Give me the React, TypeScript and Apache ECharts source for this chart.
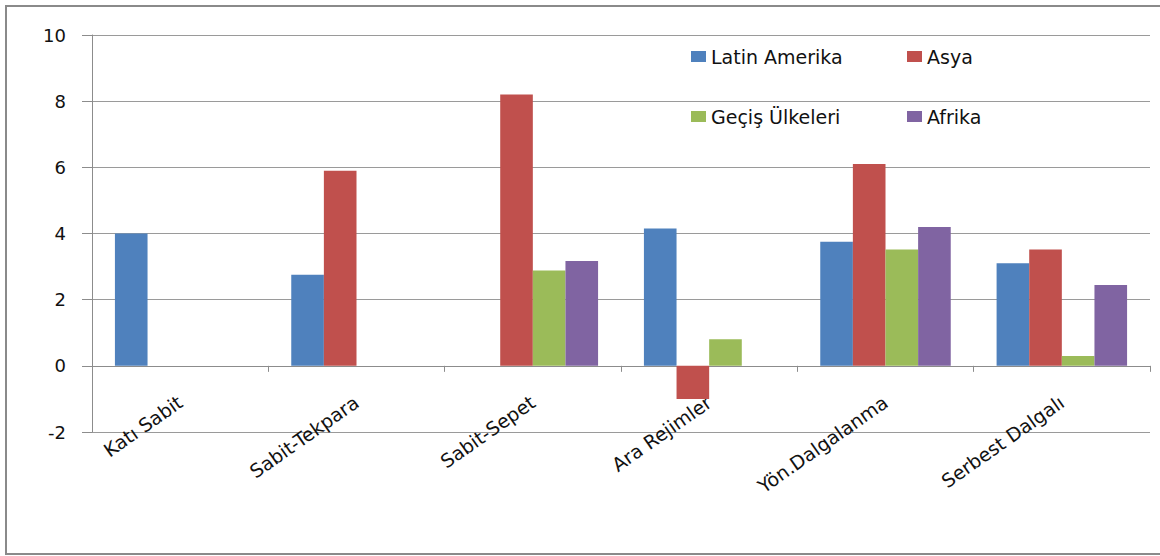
import React, { useEffect, useRef } from "react";
import * as echarts from "echarts";

const categories = ["Katı Sabit", "Sabit-Tekpara", "Sabit-Sepet", "Ara Rejimler", "Yön.Dalgalanma", "Serbest Dalgalı"];
const latinAmerika = [4.0, 2.75, null, 4.15, 3.75, 3.1];
const asya = [null, 5.9, 8.2, -1.0, 6.1, 3.52];
const gecisUlkeleri = [null, null, 2.88, 0.8, 3.52, 0.3];
const afrika = [null, null, 3.17, null, 4.2, 2.44];
const seriesNames = ["Latin Amerika", "Asya", "Geçiş Ülkeleri", "Afrika"];
const seriesColors = ["#4F81BD", "#C0504D", "#9BBB59", "#8064A2"];

const FONT = "DejaVu Sans";

export default function App() {
  const ref = useRef<HTMLDivElement>(null);
  useEffect(() => {
    document.body.style.margin = "0";
    const chart = echarts.init(ref.current!, null, { renderer: "svg" });
    const data = [latinAmerika, asya, gecisUlkeleri, afrika];
    const legendPos = [
      { left: 691, top: 47 },
      { left: 907, top: 47 },
      { left: 691, top: 107 },
      { left: 907, top: 107 },
    ];
    chart.setOption({
      animation: false,
      backgroundColor: "#fff",
      color: seriesColors,
      textStyle: { fontFamily: FONT },
      grid: { left: 92, right: 10, top: 35, bottom: 124, containLabel: false },
      legend: seriesNames.map((n, i) => ({
        data: [n],
        left: legendPos[i].left,
        top: legendPos[i].top,
        itemWidth: 15,
        itemHeight: 11,
        icon: "rect",
        padding: 0,
        textStyle: { fontFamily: FONT, fontSize: 19, color: "#111" },
      })),
      xAxis: {
        type: "category",
        data: categories,
        axisLine: { show: true, onZero: true, lineStyle: { color: "#8c8c8c", width: 1 } },
        axisTick: { show: true, alignWithLabel: false, length: 6, lineStyle: { color: "#8c8c8c" } },
        axisLabel: { rotate: 35, margin: -32, fontSize: 19, color: "#111", fontFamily: FONT, interval: 0 },
        splitLine: { show: false },
      },
      yAxis: {
        type: "value",
        min: -2,
        max: 10,
        interval: 2,
        axisLine: { show: true, lineStyle: { color: "#8c8c8c", width: 1 } },
        axisTick: { show: true, length: 10, lineStyle: { color: "#8c8c8c" } },
        axisLabel: { fontSize: 18, color: "#111", margin: 26, fontFamily: FONT },
        splitLine: { show: true, lineStyle: { color: "#9a9a9a", width: 1 } },
      },
      graphic: [
        {
          type: "rect",
          shape: { x: 6, y: 6, width: 1170, height: 548 },
          style: { fill: "none", stroke: "#8a8a8a", lineWidth: 2 },
          silent: true,
        },
      ],
      series: seriesNames.map((n, i) => ({
        name: n,
        type: "bar",
        data: data[i],
        barGap: "0%",
        barCategoryGap: "26%",
        itemStyle: { color: seriesColors[i] },
      })),
    });
    return () => chart.dispose();
  }, []);
  return <div ref={ref} style={{ width: 1160, height: 556 }} />;
}
